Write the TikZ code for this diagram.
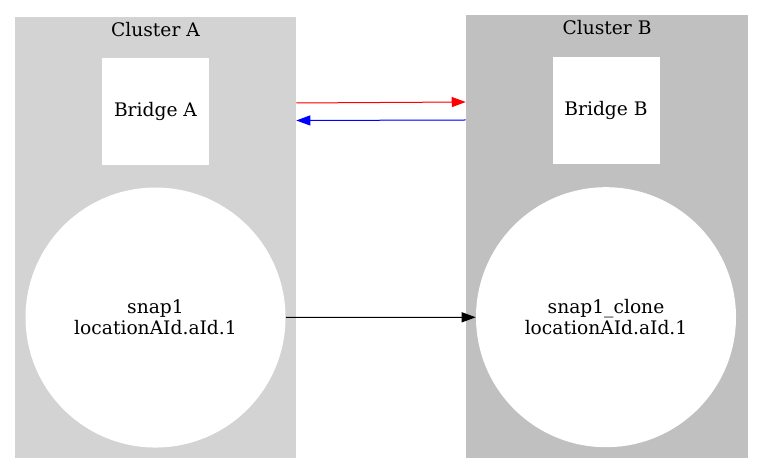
\documentclass[tikz,border=0pt]{standalone}
\usepackage{fontspec}
\setmainfont{DejaVu Serif}
\usetikzlibrary{arrows.meta,positioning,calc}
\definecolor{ClusterGrayA}{HTML}{D3D3D3}
\definecolor{ClusterGrayB}{HTML}{C0C0C0}
\definecolor{LinkRed}{HTML}{FF0000}
\definecolor{LinkBlue}{HTML}{0000FF}
\tikzset{
  clusterbox/.style={inner sep=0pt, draw=none},
  bridgebox/.style={fill=white, inner sep=2pt, minimum size=80.25pt, align=center},
  snapnode/.style={circle, fill=white, inner sep=0pt, minimum size=195pt, align=center},
  arrow/.style={-{Triangle[length=10.5pt, width=7.5pt]}, line width=0.75pt}
}
\begin{document}
\begin{tikzpicture}[x=0.75pt, y=-0.75pt, node distance=16.5pt, font=\fontsize{14}{16}\selectfont]
    \useasboundingbox (0,0) rectangle (762,473);
    % clusters
    \node[clusterbox, fill=ClusterGrayA, minimum width=210.75pt, minimum height=330.75pt] (clA) at (155.5,237.5) {};
    \node[clusterbox, fill=ClusterGrayB, minimum width=211.5pt, minimum height=332.25pt] (clB) at (607,236.5) {};
    \node[anchor=base] (labA) at (155.5,37) {Cluster A};
    \node[anchor=base] (labB) at (607,35) {Cluster B};
    % nodes
    \node[bridgebox] (brA) at (155.5,111.5) {Bridge A};
    \node[bridgebox] (brB) at (606,110.5) {Bridge B};
    \node[snapnode, below=16.5pt of brA] (snapA) {snap1\\locationAId.aId.1};
    \node[snapnode, below=17pt of brB] (snapB) {snap1\_clone\\locationAId.aId.1};

    \draw[arrow, draw=LinkRed, fill=LinkRed] ($(clA.east |- brA.east)+(0,-8.5)$) -- ($(clB.west |- brB.east)+(0,-8.5)$);
    \draw[arrow, draw=LinkBlue, fill=LinkBlue] ($(clB.west |- brB.east)+(0,9.5)$) -- ($(clA.east |- brA.east)+(0,9)$);
    \draw[arrow] (snapA) -- (snapB);
  \end{tikzpicture}
\end{document}
